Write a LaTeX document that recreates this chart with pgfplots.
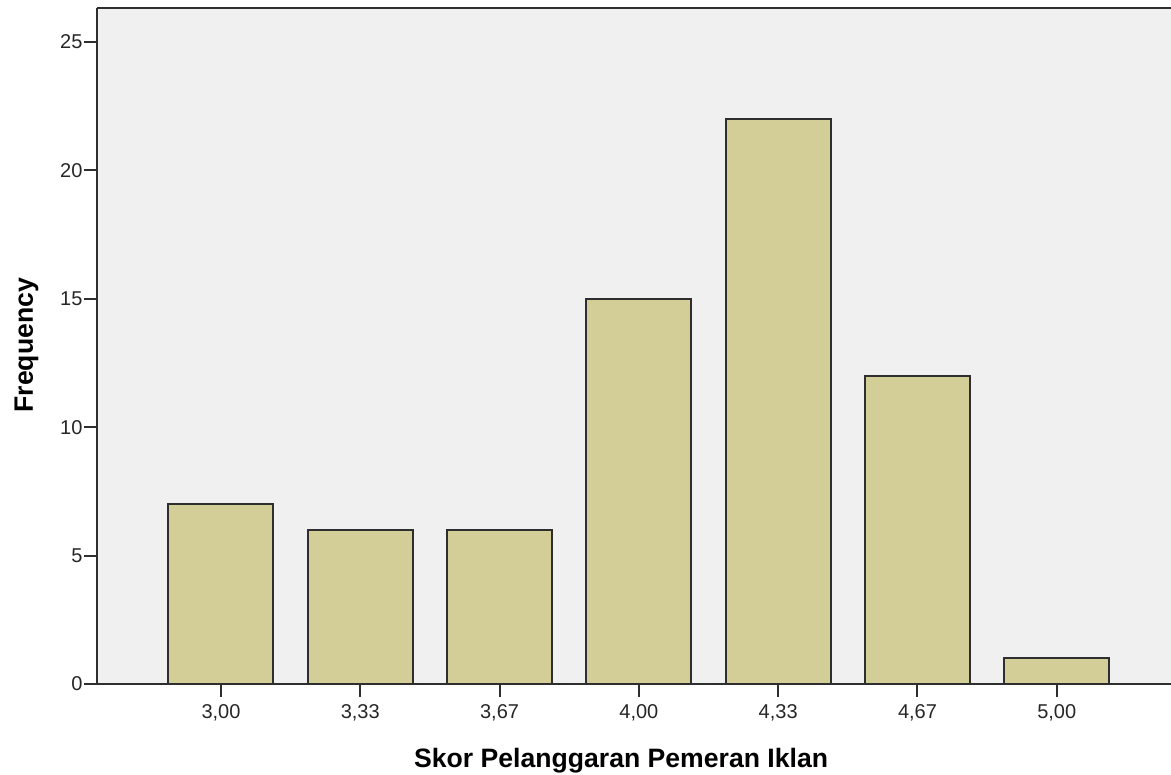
\documentclass[border=0pt]{standalone}
\usepackage{fontspec}
\setmainfont{Liberation Sans}
\usepackage{pgfplots}
\pgfplotsset{compat=1.18}
\definecolor{barfill}{HTML}{D3CE98}
\definecolor{bgfill}{HTML}{F0F0F0}
\definecolor{edge}{HTML}{2E2E2E}
\begin{document}
\begin{tikzpicture}
\begin{axis}[
  scale only axis,
  width=537pt, height=338pt,
  xmin=-0.890, xmax=6.82,
  ymin=0, ymax=26.32,
  axis background/.style={fill=bgfill},
  axis x line=box, axis y line=left,
  axis line style={-, line width=1pt, draw=edge},
  xtick={0,1,2,3,4,5,6},
  xticklabels={{3,00},{3,33},{3,67},{4,00},{4,33},{4,67},{5,00}},
  ytick={0,5,10,15,20,25},
  xtick pos=lower, ytick pos=left,
  tick align=outside,
  major tick length=6.5pt,
  every tick/.style={line width=1pt, draw=edge},
  /pgf/number format/assume math mode=true,
  ticklabel style={font=\fontsize{10}{12}\selectfont, text=black!85},
  xticklabel style={inner sep=3.5pt},
  yticklabel style={inner sep=0.6pt},
  xlabel={\bfseries Skor Pelanggaran Pemeran Iklan},
  ylabel={\bfseries Frequency},
  label style={font=\fontsize{13.3}{15}\selectfont},
  xlabel style={at={(axis description cs:0.488,-0.095)}, anchor=north, inner sep=0pt},
  ylabel style={at={(axis description cs:-0.0656,0.501)}, anchor=center, rotate=0, inner sep=0pt},
  clip=false,
]
\addplot[ybar, bar width=0.754, fill=barfill, draw=edge, line width=1pt]
  coordinates {(0,7) (1,6) (2,6) (3,15) (4,22) (5,12) (6,1)};
\end{axis}
\pgfresetboundingbox
\path (current axis.south west) ++(-48.5pt,-45.5pt) coordinate (bbsw);
\path (current axis.north east) ++(0pt,4pt) coordinate (bbne);
\path[use as bounding box] (bbsw) rectangle (bbne);
\end{tikzpicture}
\end{document}
